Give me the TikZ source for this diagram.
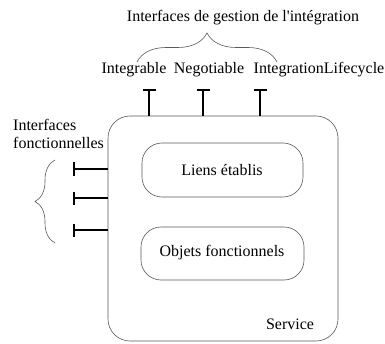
\documentclass[tikz,border=0pt]{standalone}
\usepackage{fontspec}
\setmainfont{Liberation Serif}[Ligatures=TeXOff]
\usetikzlibrary{arrows.meta, positioning}
\usetikzlibrary{decorations.pathreplacing}

\begin{document}
\begin{tikzpicture}[x=1pt, y=1pt,
    every node/.style={font=\fontsize{16}{18.5}\selectfont, inner sep=0pt},
    boxline/.style={draw=black!65, line width=0.6pt},
    lollipop/.style={line width=1.6pt}]
    \useasboundingbox (0,0) rectangle (385,343);
    \def\barlen{6.5}
  % Service
    \draw[boxline, rounded corners=22pt] (108,2) rectangle (338,227);
    \coordinate (service-top) at (108,227);
    \coordinate (service-left) at (108,2);
    \node[anchor=center] (service) at (290,19) {Service};

    \draw[boxline, rounded corners=20pt] (142,146) rectangle (303,200);
    \node (liens) at (222,173) {Liens établis};

    \draw[boxline, rounded corners=20pt] (141,63) rectangle (304,116);
    \node (objets) at (222,90) {Objets fonctionnels};

  % Interfaces de gestion
    \coordinate (tInt) at (149,253);
    \coordinate (tNeg) at (203,253);
    \coordinate (tLife) at (260,253);
    \foreach \t in {tInt,tNeg,tLife} {
        \draw[lollipop] (\t) -- (\t |- service-top);
        \draw[lollipop] ([xshift=-\barlen pt]\t) -- ([xshift=\barlen pt]\t);
    }
    \node (integrable) at (134,273) {Integrable};
    \node (negotiable) at (209,273) {Negotiable};
    \node (lifecycle) at (319,273) {IntegrationLifecycle};

    \draw [
    black!65,
    line width=0.6pt,
    decoration={
        brace,
        amplitude=29pt,
    },
    decorate
] (137,281) -- (277,281);
    \node (gestion) at (243,325) {Interfaces de gestion de l'intégration};

  % Interfaces fonctionnelles
    \coordinate (fA) at (74,174);
    \coordinate (fB) at (74,145);
    \coordinate (fC) at (74,113);
    \foreach \f in {fA,fB,fC} {
        \draw[lollipop] (\f) -- (\f -| service-left);
        \draw[lollipop] ([yshift=-\barlen pt]\f) -- ([yshift=\barlen pt]\f);
    }

    \draw [
    black!65,
    line width=0.6pt,
    decoration={
        brace,
        amplitude=20pt,
    },
    decorate
] (55,100) -- (55,183);
    \node[anchor=west, align=left] (fonction) at (13,209) {Interfaces\\fonctionnelles};

\end{tikzpicture}
\end{document}
